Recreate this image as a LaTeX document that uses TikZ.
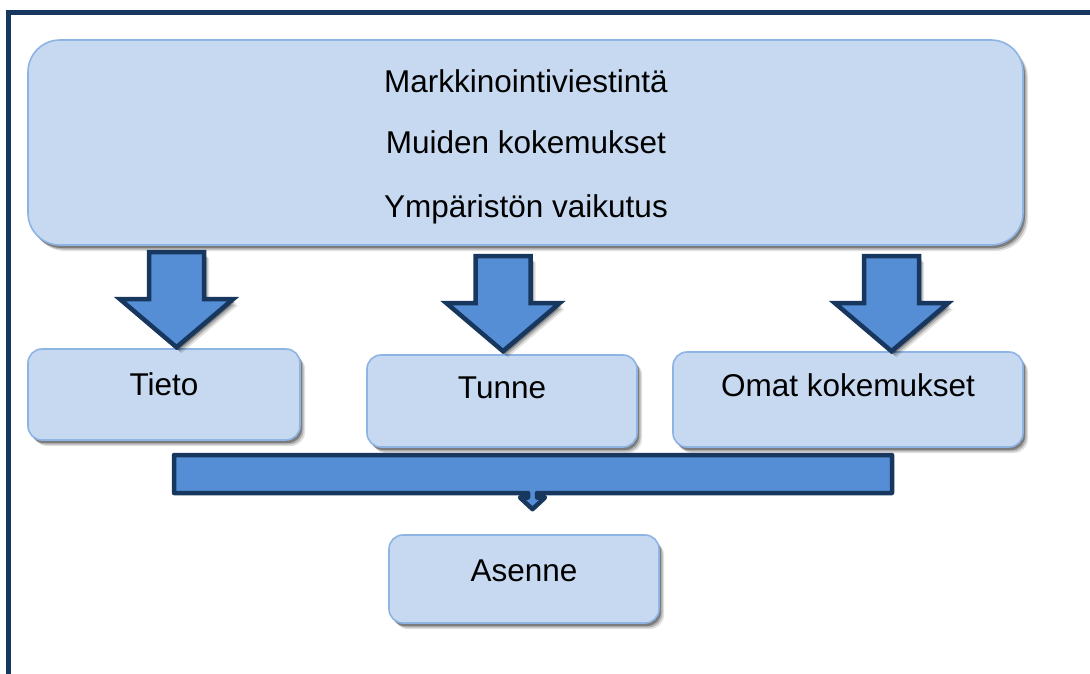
\documentclass[tikz,border=0pt]{standalone}
\usepackage{fontspec}
\setmainfont{Liberation Sans}
\usetikzlibrary{shadows,calc}
\definecolor{boxfill}{HTML}{C6D9F1}
\definecolor{boxline}{HTML}{8EB4E3}
\definecolor{arrfill}{HTML}{558ED5}
\definecolor{arrline}{HTML}{17375E}
\tikzset{
  softshadow/.style={
    drop shadow={shadow xshift=5pt, shadow yshift=-6pt, fill=black, opacity=0.12},
    drop shadow={shadow xshift=3.5pt, shadow yshift=-4.5pt, fill=black, opacity=0.2},
    drop shadow={shadow xshift=2pt, shadow yshift=-3pt, fill=black, opacity=0.3}},
  box/.style={draw=boxline, line width=1.6pt, fill=boxfill, rounded corners=14pt, inner sep=0pt, softshadow},
  bigbox/.style={box, rounded corners=32pt},
  txt/.style={font=\fontsize{31.5}{38}\selectfont, text=black, inner sep=0pt, anchor=base},
  barrow/.style={draw=arrline, line width=4.5pt, fill=arrfill, line join=miter, softshadow},
  barline/.style={draw=arrline, line width=4.5pt, fill=arrfill, line join=round},
  frame/.style={draw=arrline, line width=5pt}
}
\newcommand\myblockarrow[1]{%
  \path[barrow] ($(#1)+(-27.5,-95)$) -- ($(#1)+(27.5,-95)$) -- ($(#1)+(27.5,-48)$)
    -- ($(#1)+(56.5,-48)$) -- (#1) -- ($(#1)+(-56.5,-48)$) -- ($(#1)+(-27.5,-48)$) -- cycle;}
\begin{document}
\begin{tikzpicture}[x=1pt,y=-1pt]
\useasboundingbox (0,0) rectangle (1090,673);
\clip (0,0) rectangle (1090,673);
\fill[white] (0,0) rectangle (1090,673);
% outer frame (extends beyond the right and bottom edges)
\draw[frame] (8.5,700) -- (8.5,12.5) -- (1100,12.5);

% top box
\node[bigbox, minimum width=995pt, minimum height=205pt] (top) at (525.5,142.5) {};
\node[txt] (t1) at (526,92) {Markkinointiviestintä};
\node[txt] (t2) at (526,153) {Muiden kokemukset};
\node[txt] (t3) at (526,217) {Ympäristön vaikutus};

% middle boxes
\node[box, minimum width=272pt, minimum height=91pt] (tieto) at (164,394.5) {};
\node[txt] (tietotxt) at (164,395) {Tieto};
\node[box, minimum width=270pt, minimum height=92pt] (tunne) at (502,401) {};
\node[txt] (tunnetxt) at (502,398) {Tunne};
\node[box, minimum width=350pt, minimum height=95pt] (omat) at (848,399.5) {};
\node[txt] (omattxt) at (848,396) {Omat kokemukset};

% bottom box
\node[box, minimum width=270pt, minimum height=88pt] (asenne) at (524,579) {};
\node[txt] (asennetxt) at (524,581) {Asenne};

% block arrows from top box to the three boxes
\coordinate (a1) at (top.south -| 176.5,0);
\coordinate (tip1) at ($(a1 |- tieto.north)+(0,-1)$);
\coordinate (tip2) at ($(tunne.north -| 503,0)+(0,-3)$);
\coordinate (tip3) at ($(omat.north -| 891.5,0)+(0,0)$);
\myblockarrow{tip1}
\myblockarrow{tip2}
\myblockarrow{tip3}

% collecting bar with small arrow towards Asenne
\coordinate (bartip) at ($(asenne.north -| 532.5,0)+(0,-25)$);
\path[barline] (174,455) -- (892,455) -- (892,493) -- (537,493) -- (537,497.5)
  -- (545,497.5) -- (bartip) -- (520,497.5) -- (528,497.5) -- (528,493) -- (174,493) -- cycle;
\end{tikzpicture}
\end{document}
